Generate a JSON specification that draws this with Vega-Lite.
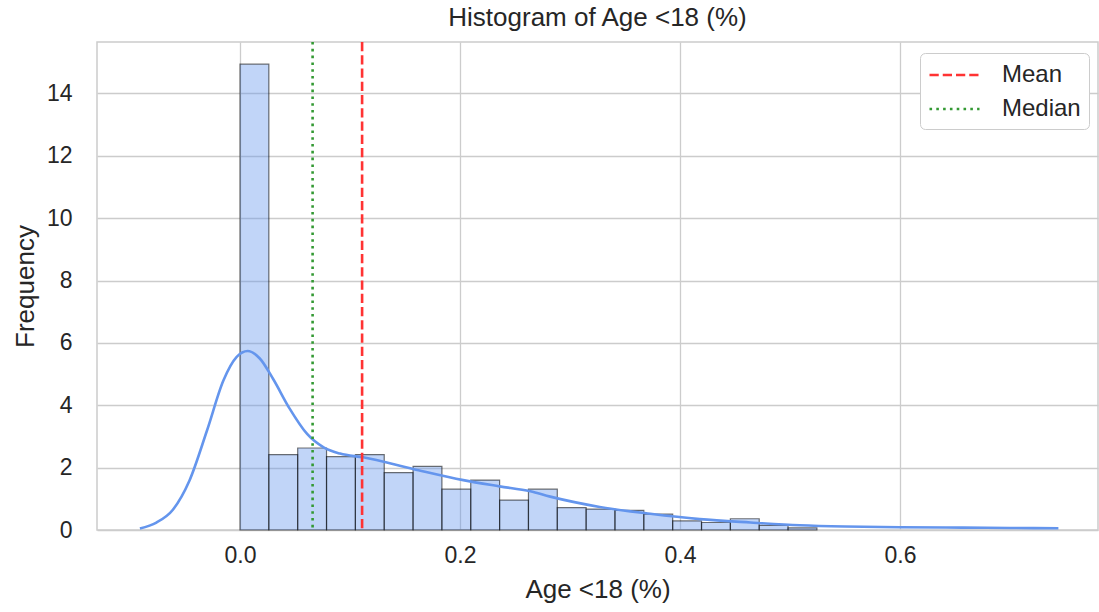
{
  "$schema": "https://vega.github.io/schema/vega-lite/v6.json",
  "autosize": "none",
  "width": 1001,
  "height": 488,
  "padding": {"left": 97, "top": 42, "right": 1, "bottom": 82},
  "background": "white",
  "title": {"text": "Histogram of Age <18 (%)", "fontSize": 26, "font": "Liberation Sans", "fontWeight": "normal", "color": "#262626", "offset": 10},
  "config": {
    "view": {"stroke": "#cccccc", "strokeWidth": 1.5},
    "axis": {
      "grid": true, "gridColor": "#cccccc", "gridWidth": 1.3,
      "domain": false, "ticks": false,
      "labelFont": "Liberation Sans", "labelFontSize": 23, "labelColor": "#262626",
      "titleFont": "Liberation Sans", "titleFontSize": 26, "titleFontWeight": "normal", "titleColor": "#262626"
    }
  },
  "datasets": {
    "bins": [
      {"bin_start": 0.0, "bin_end": 0.02622, "freq": 14.94},
      {"bin_start": 0.02622, "bin_end": 0.05245, "freq": 2.42},
      {"bin_start": 0.05245, "bin_end": 0.07867, "freq": 2.63},
      {"bin_start": 0.07867, "bin_end": 0.10489, "freq": 2.35},
      {"bin_start": 0.10489, "bin_end": 0.13112, "freq": 2.42},
      {"bin_start": 0.13112, "bin_end": 0.15734, "freq": 1.84},
      {"bin_start": 0.15734, "bin_end": 0.18356, "freq": 2.04},
      {"bin_start": 0.18356, "bin_end": 0.20978, "freq": 1.31},
      {"bin_start": 0.20978, "bin_end": 0.23601, "freq": 1.6},
      {"bin_start": 0.23601, "bin_end": 0.26223, "freq": 0.96},
      {"bin_start": 0.26223, "bin_end": 0.28845, "freq": 1.31},
      {"bin_start": 0.28845, "bin_end": 0.31468, "freq": 0.72},
      {"bin_start": 0.31468, "bin_end": 0.3409, "freq": 0.67},
      {"bin_start": 0.3409, "bin_end": 0.36712, "freq": 0.63},
      {"bin_start": 0.36712, "bin_end": 0.39335, "freq": 0.51},
      {"bin_start": 0.39335, "bin_end": 0.41957, "freq": 0.29},
      {"bin_start": 0.41957, "bin_end": 0.44579, "freq": 0.24},
      {"bin_start": 0.44579, "bin_end": 0.47202, "freq": 0.36},
      {"bin_start": 0.47202, "bin_end": 0.49824, "freq": 0.15},
      {"bin_start": 0.49824, "bin_end": 0.52446, "freq": 0.07}
    ],
    "kde": [
      {"x": -0.091, "y": 0.05},
      {"x": -0.076, "y": 0.24},
      {"x": -0.061, "y": 0.65},
      {"x": -0.046, "y": 1.58},
      {"x": -0.03, "y": 3.19},
      {"x": -0.015, "y": 4.8},
      {"x": -0.003, "y": 5.55},
      {"x": 0.007, "y": 5.74},
      {"x": 0.018, "y": 5.5},
      {"x": 0.03, "y": 4.85},
      {"x": 0.045, "y": 3.9},
      {"x": 0.061, "y": 3.08},
      {"x": 0.076, "y": 2.65},
      {"x": 0.091, "y": 2.45},
      {"x": 0.112, "y": 2.33},
      {"x": 0.158, "y": 1.95},
      {"x": 0.203, "y": 1.6},
      {"x": 0.236, "y": 1.4},
      {"x": 0.264, "y": 1.24},
      {"x": 0.282, "y": 1.07},
      {"x": 0.327, "y": 0.74},
      {"x": 0.373, "y": 0.52},
      {"x": 0.418, "y": 0.35},
      {"x": 0.464, "y": 0.24},
      {"x": 0.509, "y": 0.15},
      {"x": 0.55, "y": 0.11},
      {"x": 0.6, "y": 0.09},
      {"x": 0.657, "y": 0.075},
      {"x": 0.7, "y": 0.065},
      {"x": 0.744, "y": 0.055}
    ],
    "stats": [
      {"stat": "Mean", "value": 0.111},
      {"stat": "Median", "value": 0.066}
    ]
  },
  "layer": [
    {
      "data": {"name": "bins"},
      "mark": {"type": "rect", "fill": "#6495ED", "fillOpacity": 0.4, "stroke": "#000000", "strokeOpacity": 0.55, "strokeWidth": 1.2},
      "encoding": {
        "x": {"field": "bin_start", "type": "quantitative", "scale": {"domain": [-0.13, 0.78], "nice": false, "zero": false},
              "axis": {"values": [0, 0.2, 0.4, 0.6], "format": ".1f", "title": "Age <18 (%)", "labelPadding": 14, "titlePadding": 9}},
        "x2": {"field": "bin_end"},
        "y": {"field": "freq", "type": "quantitative", "scale": {"domain": [0, 15.65], "nice": false},
              "axis": {"values": [0, 2, 4, 6, 8, 10, 12, 14], "title": "Frequency", "labelPadding": 25, "titlePadding": 8}},
        "y2": {"datum": 0}
      }
    },
    {
      "data": {"name": "kde"},
      "mark": {"type": "line", "color": "#6495ED", "strokeWidth": 2.6, "interpolate": "monotone"},
      "encoding": {
        "x": {"field": "x", "type": "quantitative"},
        "y": {"field": "y", "type": "quantitative"}
      }
    },
    {
      "data": {"name": "stats"},
      "mark": {"type": "rule", "strokeWidth": 2.6, "strokeCap": "butt"},
      "encoding": {
        "x": {"field": "value", "type": "quantitative"},
        "color": {"field": "stat", "type": "nominal", "scale": {"domain": ["Mean", "Median"], "range": ["#ff3333", "#339933"]},
                  "legend": {"title": null, "orient": "none", "legendX": 823, "legendY": 11, "fillColor": "white", "strokeColor": "#cccccc", "cornerRadius": 5, "padding": 8,
                             "symbolType": "M-1,0H3", "symbolSize": 625, "symbolStrokeWidth": 2.6, "labelFont": "Liberation Sans", "labelFontSize": 24, "labelColor": "#262626", "labelOffset": 46, "rowPadding": 8}},
        "strokeDash": {"field": "stat", "type": "nominal", "scale": {"domain": ["Mean", "Median"], "range": [[9.25, 4], [2.6, 4.2]]}}
      }
    }
  ]
}
